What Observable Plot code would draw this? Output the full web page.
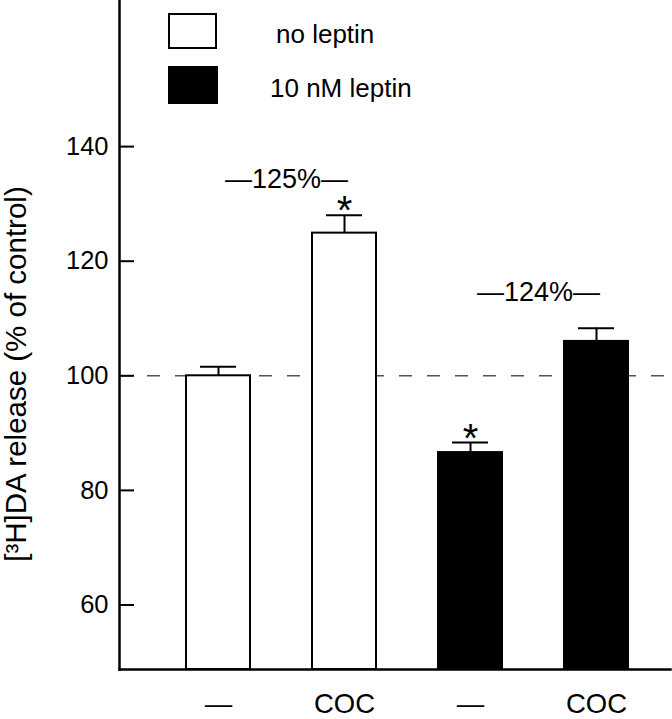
<!DOCTYPE html>
<html>
<head>
<meta charset="utf-8">
<script src="https://cdn.jsdelivr.net/npm/d3@7"></script>
<script src="https://cdn.jsdelivr.net/npm/@observablehq/plot@0.6"></script>
<style>
  body { margin: 0; background: #fff; }
  #wrap { position: relative; width: 672px; height: 719px; font-family: "Liberation Sans", Arial, sans-serif; }
  #legend { position: absolute; left: 0; top: 0; }
  .lbox { position: absolute; box-sizing: border-box; border: 2px solid #000; }
  .ltext { position: absolute; font-size: 26px; line-height: 26px; color: #000; white-space: nowrap; }
</style>
</head>
<body>
<div id="wrap"><div id="legend"></div></div>
<script>
// ---- data ----
const treatments = ["—", "COC", "—", "COC"];
const groups = ["no leptin", "no leptin", "10 nM leptin", "10 nM leptin"];
const means = [100, 124.9, 86.6, 106.0];
const errors = [1.6, 3.1, 1.75, 2.3];
const significant = [false, true, true, false];
const yTicks = [60, 80, 100, 120, 140];
const yDomain = [48.74, 165.5];
const controlLevel = 100;
const annotationTexts = ["—125%—", "—124%—"];
const annotationPairs = [[0, 1], [2, 3]];
const legendLabels = ["no leptin", "10 nM leptin"];
const legendFills = ["white", "black"];
const yLabel = "[³H]DA release (% of control)";

// ---- derived tables ----
const data = means.map((m, i) => ({
  i, treatment: treatments[i], group: groups[i], mean: m, err: errors[i], top: m + errors[i], sig: significant[i]
}));
const annotations = annotationTexts.map((t, k) => ({
  text: t, i: annotationPairs[k][1],
  y: Math.max(...annotationPairs[k].map(j => data[j].top))
}));

const FONT = '"Liberation Sans", Arial, sans-serif';

const chart = Plot.plot({
  width: 672,
  height: 719,
  marginLeft: 119,
  marginRight: 2,
  marginTop: 0,
  marginBottom: 50,
  style: { fontFamily: FONT, fontSize: "25px", color: "#000", background: "transparent", overflow: "visible" },
  x: { type: "band", domain: data.map(d => d.i), paddingInner: 0.496, paddingOuter: 0.425, align: 0.611, axis: null },
  y: { domain: yDomain, axis: null },
  color: { domain: legendLabels, range: legendFills },
  marks: [
    // control level dashed line
    Plot.ruleY([controlLevel], { stroke: "#555", strokeWidth: 1.5, strokeDasharray: "13,15" }),
    // error bars (upper half)
    Plot.ruleX(data, { x: "i", y1: "mean", y2: "top", stroke: "#000", strokeWidth: 2 }),
    Plot.tickY(data, { x: "i", y: "top", stroke: "#000", strokeWidth: 2, insetLeft: 14, insetRight: 14 }),
    // bars
    Plot.barY(data, { x: "i", y1: yDomain[0], y2: "mean", fill: "group", stroke: "#000", strokeWidth: 2 }),
    // significance asterisks
    Plot.text(data.filter(d => d.sig), { x: "i", y: "top", text: () => "*", fontSize: 40, lineAnchor: "bottom", dy: 9 }),
    // percentage annotations
    Plot.text(annotations, { x: "i", y: "y", text: "text", dx: -58, dy: -36, lineAnchor: "middle", fontSize: 27 }),
    // inward y ticks
    Plot.ruleY(yTicks, { stroke: "#000", strokeWidth: 2, insetRight: 536 }),
    // y tick labels
    Plot.axisY({ ticks: yTicks, tickSize: 0, tickPadding: 11, label: null, fontSize: 25.5 }),
    // x tick labels
    Plot.axisX({ tickSize: 0, tickPadding: 24, tickFormat: i => treatments[i], label: null, fontSize: 27.5 }),
    // axis lines
    Plot.frame({ anchor: "left", stroke: "#000", strokeWidth: 2.5 }),
    Plot.frame({ anchor: "bottom", stroke: "#000", strokeWidth: 2.5 }),
    // y label
    Plot.text([yLabel], { frameAnchor: "left", rotate: -90, textAnchor: "middle", dx: -94, dy: 39, fontSize: 29.5, lineAnchor: "bottom", text: d => d })
  ]
});
document.getElementById("wrap").prepend(chart);

// ---- legend (overlay in upper plot area) ----
const legend = document.getElementById("legend");
legendLabels.forEach((lab, k) => {
  const box = document.createElement("div");
  box.className = "lbox";
  box.style.left = "168px";
  box.style.top = (13 + k * 53) + "px";
  box.style.width = (49 + k) + "px";
  box.style.height = (36 + 2 * k) + "px";
  box.style.background = legendFills[k];
  legend.appendChild(box);
  const t = document.createElement("div");
  t.className = "ltext";
  t.style.left = (k === 0 ? 276 : 270) + "px";
  t.style.top = (21 + k * 54) + "px";
  t.textContent = lab;
  legend.appendChild(t);
});
</script>
</body>
</html>
